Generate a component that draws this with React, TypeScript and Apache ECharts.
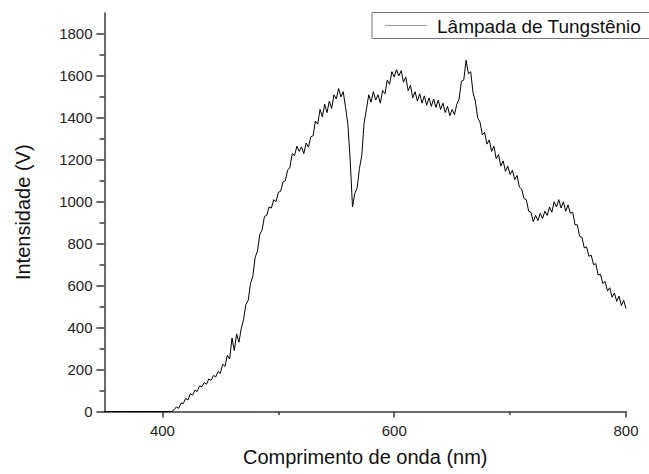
import React, { useEffect, useRef } from "react";
import * as echarts from "echarts";

const seriesName = "Lâmpada de Tungstênio";
const xTitle = "Comprimento de onda (nm)";
const yTitle = "Intensidade (V)";

const xMajorTicks = [400, 600, 800];
const xMinorTicks = [500, 700];
const yMajorTicks = [0, 200, 400, 600, 800, 1000, 1200, 1400, 1600, 1800];
const yMinorTicks = [100, 300, 500, 700, 900, 1100, 1300, 1500, 1700];

// [wavelength (nm), intensity (V)]
const spectrum: [number, number][] = [
  [350, 0], [370, 0], [390, 0], [408, 0],
  [410, 8], [412, 22], [414, 15], [416, 40], [418, 38], [420, 62], [422, 55], [424, 85],
  [426, 78], [428, 102], [430, 95], [432, 122], [434, 118], [436, 138], [438, 130], [440, 155],
  [442, 148], [444, 172], [446, 165], [448, 190], [450, 182], [452, 225], [454, 215], [456, 268],
  [458, 250], [460, 350], [462, 290], [464, 370], [466, 330], [468, 395], [470, 440], [472, 510],
  [474, 530], [476, 610], [478, 645], [480, 735], [482, 765], [484, 845], [486, 865], [488, 930],
  [490, 935], [492, 975], [494, 970], [496, 1010], [498, 1000], [500, 1045], [502, 1050], [504, 1095],
  [506, 1100], [508, 1150], [510, 1165], [512, 1230], [514, 1220], [516, 1265], [518, 1240], [520, 1262],
  [522, 1230], [524, 1280], [526, 1260], [528, 1310], [530, 1315], [532, 1385], [534, 1370], [536, 1440],
  [538, 1405], [540, 1465], [542, 1425], [544, 1480], [546, 1445], [548, 1510], [550, 1490], [552, 1540],
  [554, 1500], [556, 1525], [558, 1450], [560, 1370], [562, 1200], [564, 975], [566, 1040], [568, 1065],
  [570, 1160], [572, 1220], [574, 1375], [576, 1440], [578, 1510], [580, 1475], [582, 1525], [584, 1485],
  [586, 1510], [588, 1470], [590, 1530], [592, 1515], [594, 1580], [596, 1560], [598, 1620], [600, 1595],
  [602, 1630], [604, 1600], [606, 1625], [608, 1570], [610, 1595], [612, 1530], [614, 1555], [616, 1495],
  [618, 1525], [620, 1480], [622, 1515], [624, 1470], [626, 1505], [628, 1460], [630, 1495], [632, 1455],
  [634, 1490], [636, 1450], [638, 1485], [640, 1440], [642, 1470], [644, 1425], [646, 1455], [648, 1410],
  [650, 1440], [652, 1415], [654, 1465], [656, 1490], [658, 1575], [660, 1580], [662, 1675], [664, 1610],
  [666, 1620], [668, 1520], [670, 1480], [672, 1400], [674, 1380], [676, 1320], [678, 1330], [680, 1275],
  [682, 1295], [684, 1240], [686, 1265], [688, 1205], [690, 1225], [692, 1170], [694, 1195], [696, 1145],
  [698, 1170], [700, 1130], [702, 1150], [704, 1105], [706, 1125], [708, 1070], [710, 1060], [712, 1015],
  [714, 1010], [716, 955], [718, 950], [720, 905], [722, 935], [724, 910], [726, 945], [728, 920],
  [730, 955], [732, 935], [734, 975], [736, 950], [738, 1000], [740, 975], [742, 1010], [744, 970],
  [746, 1000], [748, 955], [750, 985], [752, 945], [754, 950], [756, 890], [758, 890], [760, 835],
  [762, 830], [764, 780], [766, 785], [768, 740], [770, 745], [772, 700], [774, 705], [776, 650],
  [778, 655], [780, 610], [782, 620], [784, 575], [786, 590], [788, 545], [790, 565], [792, 525],
  [794, 550], [796, 505], [798, 530], [800, 490],
];

const FONT = "'Liberation Sans', Arial, sans-serif";
const AXIS_COLOR = "#3a3a3a";

export default function App() {
  const ref = useRef<HTMLDivElement>(null);

  useEffect(() => {
    if (!ref.current) return;
    const chart = echarts.init(ref.current, undefined, { renderer: "svg" });
    const axisLineStyle = { color: AXIS_COLOR, width: 1.5 };
    const plain = (v: number) => String(v);
    chart.setOption({
      animation: false,
      backgroundColor: "#ffffff",
      textStyle: { fontFamily: FONT },
      grid: { left: 104.5, right: 23, top: 13, bottom: 62.5 },
      graphic: [
        {
          type: "rect",
          silent: true,
          shape: { x: 372, y: 12.5, width: 300, height: 26 },
          style: { fill: "#fff", stroke: "#777", lineWidth: 1 },
          z: 10,
        },
        {
          type: "line",
          silent: true,
          shape: { x1: 385, y1: 25.5, x2: 427, y2: 25.5 },
          style: { stroke: "#999", lineWidth: 1 },
          z: 11,
        },
        {
          type: "text",
          silent: true,
          x: 437,
          y: 26,
          style: {
            text: seriesName,
            fontFamily: FONT,
            fontSize: 19,
            fill: "#111",
            verticalAlign: "middle",
            align: "left",
          },
          z: 11,
        },
      ],
      xAxis: [
        {
          type: "value",
          min: 350,
          max: 800,
          name: xTitle,
          nameLocation: "middle",
          nameGap: 35,
          nameTextStyle: { fontFamily: FONT, fontSize: 20, color: "#111" },
          axisLine: { show: true, onZero: false, lineStyle: axisLineStyle },
          axisTick: { show: true, inside: false, length: 6, customValues: xMajorTicks, lineStyle: axisLineStyle },
          axisLabel: { customValues: xMajorTicks, formatter: plain, margin: 11, fontSize: 15, color: "#222", fontFamily: FONT },
          splitLine: { show: false },
        },
        {
          type: "value",
          min: 350,
          max: 800,
          position: "bottom",
          axisLine: { show: false },
          axisTick: { show: true, inside: false, length: 3.5, customValues: xMinorTicks, lineStyle: axisLineStyle },
          axisLabel: { show: false },
          splitLine: { show: false },
        },
      ],
      yAxis: [
        {
          type: "value",
          min: 0,
          max: 1900,
          name: yTitle,
          nameLocation: "middle",
          nameGap: 72,
          nameTextStyle: { fontFamily: FONT, fontSize: 20, color: "#111" },
          axisLine: { show: true, onZero: false, lineStyle: axisLineStyle },
          axisTick: { show: true, inside: false, length: 8, customValues: yMajorTicks, lineStyle: axisLineStyle },
          axisLabel: { customValues: yMajorTicks, formatter: plain, margin: 12, fontSize: 15, color: "#222", fontFamily: FONT },
          splitLine: { show: false },
        },
        {
          type: "value",
          min: 0,
          max: 1900,
          position: "left",
          axisLine: { show: false },
          axisTick: { show: true, inside: false, length: 5, customValues: yMinorTicks, lineStyle: axisLineStyle },
          axisLabel: { show: false },
          splitLine: { show: false },
        },
      ],
      series: [
        {
          name: seriesName,
          type: "line",
          xAxisIndex: 0,
          yAxisIndex: 0,
          data: spectrum,
          symbol: "none",
          showSymbol: false,
          lineStyle: { color: "#000", width: 1 },
          itemStyle: { color: "#000" },
        },
      ],
    });
    return () => chart.dispose();
  }, []);

  return (
    <div
      ref={ref}
      style={{ position: "absolute", left: 0, top: 0, width: 649, height: 474, background: "#fff" }}
    />
  );
}
